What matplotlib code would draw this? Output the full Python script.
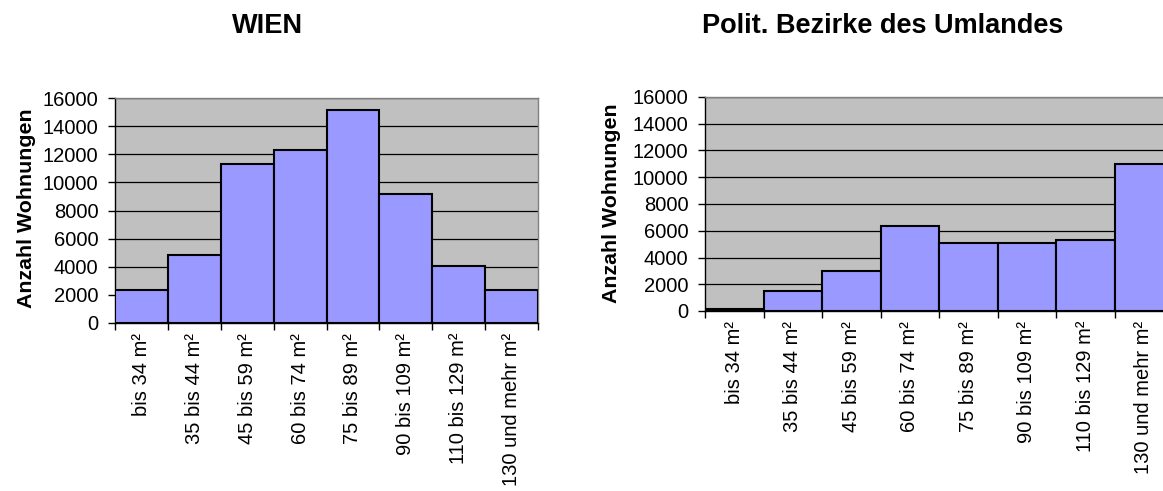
import matplotlib
matplotlib.use("Agg")
import matplotlib.pyplot as plt
from matplotlib.ticker import FixedLocator

plt.rcParams['font.family'] = ['Liberation Sans', 'DejaVu Sans']

categories = ['bis 34 m²', '35 bis 44 m²', '45 bis 59 m²', '60 bis 74 m²',
              '75 bis 89 m²', '90 bis 109 m²', '110 bis 129 m²', '130 und mehr m²']
wien = [2350, 4820, 11330, 12270, 15130, 9150, 4040, 2360]
umland = [180, 1500, 2980, 6360, 5060, 5060, 5340, 10960]
yticks = [0, 2000, 4000, 6000, 8000, 10000, 12000, 14000, 16000]

titles = ['WIEN', 'Polit. Bezirke des Umlandes']
ylabel = 'Anzahl Wohnungen'

fig = plt.figure(figsize=(11.63, 4.91), dpi=100)
W, H = 1163.0, 491.0


def make_axes(left, top, right, bottom):
    return fig.add_axes([left / W, 1 - bottom / H, (right - left) / W, (bottom - top) / H])


def draw(ax, values):
    ax.set_facecolor('#C0C0C0')
    ax.set_axisbelow(True)
    x = range(len(values))
    ax.bar(x, values, width=1.0, color='#9999FF', edgecolor='black', linewidth=1.5, zorder=3)
    ax.set_xlim(-0.5, len(values) - 0.5)
    ax.set_ylim(0, 16000)
    ax.set_yticks(yticks)
    ax.yaxis.grid(True, color='black', linewidth=0.9)
    ax.tick_params(axis='y', direction='out', length=5, width=1, pad=7, labelsize=14.5)
    ax.set_xticks(list(x))
    ax.set_xticklabels(categories, rotation=90, va='top', ha='center', fontsize=14.5)
    ax.tick_params(axis='x', which='major', length=0, pad=7)
    ax.xaxis.set_minor_locator(FixedLocator([i - 0.5 for i in range(len(values) + 1)]))
    ax.tick_params(axis='x', which='minor', direction='out', length=5, width=1)
    for s in ['left', 'bottom']:
        ax.spines[s].set_color('black')
        ax.spines[s].set_linewidth(1.0)
    for s in ['top', 'right']:
        ax.spines[s].set_color('#808080')
        ax.spines[s].set_linewidth(1.0)


ax1 = make_axes(115, 98, 538, 323)
draw(ax1, wien)
ax2 = make_axes(705, 97, 1173, 311)
draw(ax2, umland)

fig.text(268 / W, 1 - 26 / H, titles[0], ha='center', va='center', fontsize=19.5, fontweight='bold')
fig.text(883 / W, 1 - 26 / H, titles[1], ha='center', va='center', fontsize=19.5, fontweight='bold')
fig.text(27 / W, 1 - 208 / H, ylabel, rotation=90, ha='center', va='center', fontsize=15.4, fontweight='bold')
fig.text(611 / W, 1 - 203 / H, ylabel, rotation=90, ha='center', va='center', fontsize=15.4, fontweight='bold')

fig.savefig('out.png', dpi=100)
